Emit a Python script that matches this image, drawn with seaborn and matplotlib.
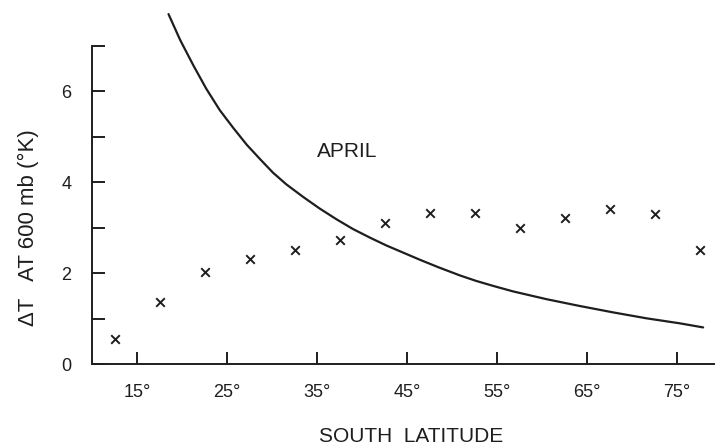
import matplotlib
matplotlib.use("Agg")
import matplotlib.pyplot as plt
import seaborn as sns
import pandas as pd

# Observed points (x markers)
obs_lat = [12.5, 17.5, 22.5, 27.5, 32.5, 37.5, 42.5, 47.5, 52.5, 57.5, 62.5, 67.5, 72.5, 77.5]
obs_dt = [0.56, 1.36, 2.02, 2.31, 2.50, 2.74, 3.10, 3.33, 3.33, 2.99, 3.21, 3.40, 3.29, 2.52]

# Curve (April)
curve_lat = [18.5, 19.8, 21.3, 22.7, 24.2, 25.7, 27.2, 28.7, 30.1, 31.6, 33.5, 35.3,
             37.2, 39.0, 40.9, 42.7, 44.6, 46.5, 48.5, 50.9, 52.7, 54.6, 56.8, 60.5,
             64.2, 67.9, 71.6, 75.3, 77.9]
curve_dt = [7.69, 7.12, 6.55, 6.05, 5.58, 5.19, 4.82, 4.50, 4.21, 3.95, 3.67, 3.42,
            3.18, 2.97, 2.78, 2.61, 2.45, 2.29, 2.13, 1.95, 1.83, 1.72, 1.60, 1.43,
            1.28, 1.14, 1.01, 0.90, 0.81]

x_ticks = [15, 25, 35, 45, 55, 65, 75]
x_tick_labels = ["15°", "25°", "35°", "45°", "55°", "65°", "75°"]
y_major = [0, 2, 4, 6]
y_minor = [1, 3, 5, 7]

sns.set_style("white")
plt.rcParams['font.family'] = ['Liberation Sans', 'DejaVu Sans']

ink = "#1e1e1e"
fig = plt.figure(figsize=(7.15, 4.47), dpi=100)
ax = fig.add_axes([92 / 715, 82.7 / 447, 624 / 715, 364.3 / 447])

obs = pd.DataFrame({"lat": obs_lat, "dt": obs_dt})
cur = pd.DataFrame({"lat": curve_lat, "dt": curve_dt})

sns.lineplot(data=cur, x="lat", y="dt", ax=ax, color=ink, linewidth=1.6, sort=True)
sns.scatterplot(data=obs, x="lat", y="dt", ax=ax, marker="x", s=38, color=ink,
                linewidth=1.4)

ax.set_xlim(10, 79.33)
ax.set_ylim(0, 8.0)

for s in ["top", "right"]:
    ax.spines[s].set_visible(False)
for s in ["left", "bottom"]:
    ax.spines[s].set_color(ink)
    ax.spines[s].set_linewidth(1.4)
ax.spines["left"].set_bounds(0, 7)

ax.set_xticks(x_ticks)
ax.set_xticklabels(x_tick_labels)
ax.set_yticks(y_major)
ax.set_yticks(y_minor, minor=True)
ax.tick_params(axis="both", which="both", direction="in", length=9, width=1.4,
               color=ink, labelcolor=ink, labelsize=13, bottom=True, left=True)
ax.tick_params(axis="x", pad=14)
ax.tick_params(axis="y", pad=15)

ax.text(38.3, 4.68, "APRIL", ha="center", va="center", fontsize=15, color=ink)

ax.set_xlabel("SOUTH  LATITUDE", fontsize=15, color=ink, va="center")
ax.xaxis.set_label_coords((411 - 92) / 624, -(437 - 364.3) / 364.3)
ax.set_ylabel("ΔT   AT 600 mb (°K)", fontsize=16, color=ink, va="center")
ax.yaxis.set_label_coords((28 - 92) / 624, (364.3 - 228) / 364.3)

fig.savefig("out.png", dpi=100, facecolor="white")
